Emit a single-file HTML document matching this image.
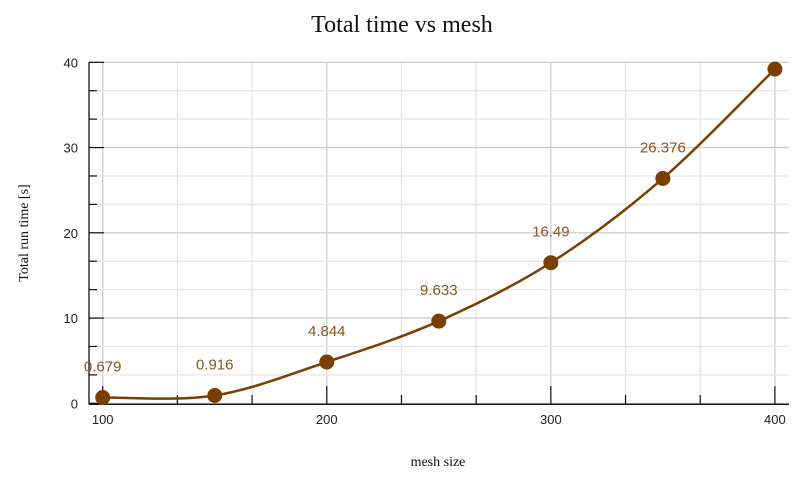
<!DOCTYPE html>
<html><head><meta charset="utf-8"><style>
body{margin:0;background:#fff;}
svg text{font-family:"Liberation Sans",sans-serif;}
</style></head><body>
<svg id="chart" width="808" height="476" xmlns="http://www.w3.org/2000/svg">
<text x="402" y="32" text-anchor="middle" font-size="24" style="font-family:'Liberation Serif',serif" fill="#111">Total time vs mesh</text>
<text x="438" y="466" text-anchor="middle" font-size="14" style="font-family:'Liberation Serif',serif" fill="#111">mesh size</text>
<text transform="translate(28,233) rotate(-90)" text-anchor="middle" font-size="14" style="font-family:'Liberation Serif',serif" fill="#111">Total run time [s]</text>
<g id="grid"></g><g id="axes"></g><g id="series"></g>
</svg>
<script>
const meshSizes=[100,150,200,250,300,350,400];
const runTimes=[0.679,0.916,4.844,9.633,16.49,26.376,39.2];
const valueLabels=["0.679","0.916","4.844","9.633","16.49","26.376",""];
const xTicks=[100,200,300,400];
const yTicks=[0,10,20,30,40];
const NS="http://www.w3.org/2000/svg";
const X=v=>102.7+(v-100)*2.2407;
const Y=v=>403.3-v*8.525;
function mk(tag,attrs,parent,txt){const e=document.createElementNS(NS,tag);for(const k in attrs)e.setAttribute(k,attrs[k]);if(txt!==undefined)e.textContent=txt;document.getElementById(parent).appendChild(e);return e;}
// grid
for(let i=0;i<=9;i++){const v=100+i*100/3;const major=i%3===0;
 const l=mk('line',{x1:X(v),x2:X(v),y1:Y(40),y2:Y(0),stroke:major?'#d0d0d0':'#e6e6e6','stroke-width':1.3},'grid');
 }
for(let i=0;i<=12;i++){const v=i*10/3;const major=i%3===0;
 const l=mk('line',{x1:89,x2:789,y1:Y(v),y2:Y(v),stroke:major?'#d0d0d0':'#e6e6e6','stroke-width':1.3},'grid');
 }
// axes
let a=mk('line',{x1:89,x2:89,y1:Y(40),y2:Y(0)+1,stroke:'#111','stroke-width':1.3},'axes');

a=mk('line',{x1:89,x2:789,y1:Y(0)+1,y2:Y(0)+1,stroke:'#111','stroke-width':1.3},'axes');

for(let i=0;i<=12;i++){const v=i*10/3;const major=i%3===0;
 const t=mk('line',{x1:89,x2:major?104:97,y1:Y(v),y2:Y(v),stroke:'#111','stroke-width':1.2},'axes');
 }
for(let i=0;i<=9;i++){const v=100+i*100/3;const major=i%3===0;
 const t=mk('line',{x1:X(v),x2:X(v),y1:Y(0)+1,y2:major?386:395,stroke:'#111','stroke-width':1.2},'axes');
 }
yTicks.forEach(v=>{const t=mk('text',{x:78,y:Y(v)+5,'text-anchor':'end','font-size':13,fill:'#222'},'axes',String(v));
 });
xTicks.forEach(v=>{const t=mk('text',{x:X(v),y:424,'text-anchor':'middle','font-size':13,fill:'#222'},'axes',String(v));
 });
// curve (Catmull-Rom)
const pts=meshSizes.map((m,i)=>[X(m),Y(runTimes[i])]);
let d='M'+pts[0][0]+','+pts[0][1];
for(let i=0;i<pts.length-1;i++){const p0=pts[Math.max(0,i-1)],p1=pts[i],p2=pts[i+1],p3=pts[Math.min(pts.length-1,i+2)];
 d+=` C${p1[0]+(p2[0]-p0[0])/6},${p1[1]+(p2[1]-p0[1])/6} ${p2[0]-(p3[0]-p1[0])/6},${p2[1]-(p3[1]-p1[1])/6} ${p2[0]},${p2[1]}`;}
const path=mk('path',{d:d,fill:'none',stroke:'#7a3f00','stroke-width':2.5},'series');

pts.forEach((p,i)=>{const c=mk('circle',{cx:p[0],cy:p[1],r:7.5,fill:'#7a3f00'},'series');
 
 if(valueLabels[i]){const t=mk('text',{x:p[0],y:p[1]-26,'text-anchor':'middle','font-size':15,fill:'#8a5520'},'series',valueLabels[i]);
 }});
</script>
</body></html>
